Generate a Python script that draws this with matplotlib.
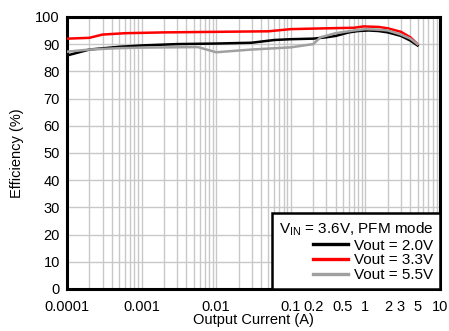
import matplotlib.pyplot as plt
from matplotlib.ticker import FixedLocator, FixedFormatter, LogLocator, NullFormatter

plt.rcParams['font.family'] = ['Liberation Sans', 'DejaVu Sans']

# данные
i_black = [0.0001, 0.0002, 0.0005, 0.001, 0.003, 0.01, 0.03, 0.06, 0.1, 0.2, 0.3, 0.4, 0.6, 0.8, 1.1, 1.5, 2, 3, 4, 5]
eff_black = [85.8, 88.0, 89.0, 89.5, 90.0, 90.2, 90.5, 91.5, 91.8, 92.0, 92.5, 93.0, 94.3, 94.8, 95.0, 94.8, 94.3, 93.0, 91.3, 89.5]

i_red = [0.0001, 0.0002, 0.0003, 0.0006, 0.002, 0.01, 0.05, 0.1, 0.3, 0.7, 0.95, 1.5, 2, 3, 4, 5]
eff_red = [92.0, 92.3, 93.5, 94.0, 94.3, 94.5, 94.7, 95.5, 95.8, 96.0, 96.5, 96.3, 95.8, 94.5, 92.5, 90.0]

i_gray = [0.0001, 0.0002, 0.0005, 0.001, 0.0057, 0.01, 0.03, 0.1, 0.2, 0.25, 0.4, 0.7, 1.0, 1.5, 2, 3, 4, 5]
eff_gray = [87.2, 88.0, 88.5, 88.7, 88.9, 87.0, 88.0, 88.8, 90.0, 92.5, 94.0, 95.0, 95.5, 95.3, 95.0, 93.5, 92.0, 90.0]

x_ticks = [0.0001, 0.001, 0.01, 0.1, 0.2, 0.5, 1, 2, 3, 5, 10]
x_labels = ['0.0001', '0.001', '0.01', '0.1', '0.2', '0.5', '1', '2', '3', '5', '10']

fig = plt.figure(figsize=(4.49, 3.31), dpi=100)
ax = fig.add_axes([0.149, 0.127, 0.831, 0.822])

ax.plot(i_black, eff_black, color='black', lw=1.8, label='Vout = 2.0V', zorder=3)
ax.plot(i_red, eff_red, color='#ff0000', lw=1.8, label='Vout = 3.3V', zorder=3)
ax.plot(i_gray, eff_gray, color='#a0a0a0', lw=1.8, label='Vout = 5.5V', zorder=3)

ax.set_xscale('log')
ax.set_xlim(0.0001, 10)
ax.set_ylim(0, 100)
ax.xaxis.set_major_locator(FixedLocator(x_ticks))
ax.xaxis.set_major_formatter(FixedFormatter(x_labels))
ax.xaxis.set_minor_locator(LogLocator(base=10, subs=range(2, 10)))
ax.xaxis.set_minor_formatter(NullFormatter())
ax.set_yticks(range(0, 101, 10))

ax.grid(True, which='both', color='#c8c8c8', lw=1)
ax.tick_params(which='both', length=0, labelsize=10.5)
ax.tick_params(axis='x', pad=8)
ax.tick_params(axis='y', pad=5)
for s in ax.spines.values():
    s.set_linewidth(2.2)

ax.set_xlabel('Output Current (A)', fontsize=10.5, labelpad=-1)
ax.set_ylabel('Efficiency (%)', fontsize=10.5, labelpad=8)

leg = ax.legend(title='V$_{\\mathregular{IN}}$ = 3.6V, PFM mode', loc='lower right',
                fontsize=11, title_fontsize=11, fancybox=False, framealpha=1,
                edgecolor='black', borderaxespad=0, handlelength=2.3,
                handletextpad=0.4, labelspacing=0.05, borderpad=0.45)
leg.get_frame().set_linewidth(1.8)
for h in leg.get_lines():
    h.set_linewidth(2.4)
leg._legend_box.align = 'right'

fig.savefig('out.png', dpi=100)
